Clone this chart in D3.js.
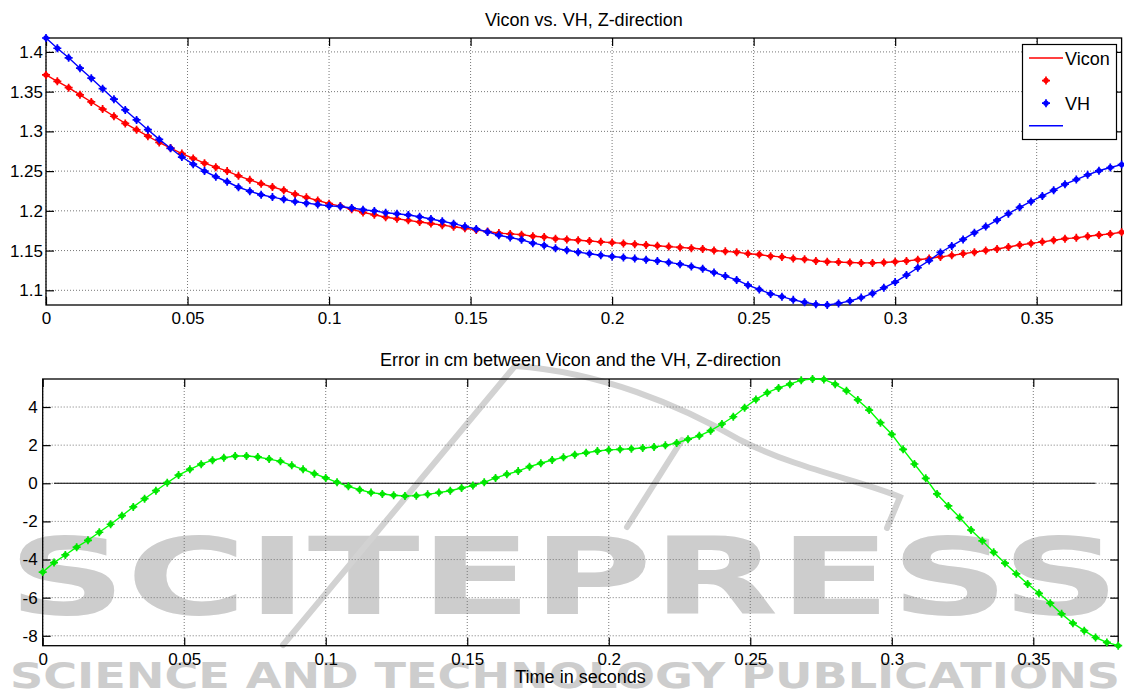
<!DOCTYPE html>
<html>
<head>
<meta charset="utf-8">
<script src="https://d3js.org/d3.v7.min.js"></script>
<style>
body{margin:0;background:#fff;}
text{font-family:"Liberation Sans",Arial,sans-serif;fill:#000;}
</style>
</head>
<body>
<div id="chart"></div>
<script>
/* Vicon vs VH, Z-direction, plus error plot */

// time in seconds (250 Hz samples)
var time = [0,0.004,0.008,0.012,0.016,0.02,0.024,0.028,0.032,0.036,0.04,0.044,0.048,0.052,0.056,0.06,
  0.064,0.068,0.072,0.076,0.08,0.084,0.088,0.092,0.096,0.1,0.104,0.108,0.112,0.116,0.12,0.124,
  0.128,0.132,0.136,0.14,0.144,0.148,0.152,0.156,0.16,0.164,0.168,0.172,0.176,0.18,0.184,0.188,
  0.192,0.196,0.2,0.204,0.208,0.212,0.216,0.22,0.224,0.228,0.232,0.236,0.24,0.244,0.248,0.252,
  0.256,0.26,0.264,0.268,0.272,0.276,0.28,0.284,0.288,0.292,0.296,0.3,0.304,0.308,0.312,0.316,
  0.32,0.324,0.328,0.332,0.336,0.34,0.344,0.348,0.352,0.356,0.36,0.364,0.368,0.372,0.376,0.38];

// Vicon z (m)
var vicon = [1.371,1.363,1.355,1.346,1.337,1.328,1.319,1.310,1.302,1.294,1.286,1.279,1.272,1.266,1.260,1.255,
  1.250,1.244,1.239,1.234,1.230,1.226,1.221,1.217,1.213,1.209,1.206,1.202,1.198,1.195,1.192,1.190,
  1.188,1.186,1.184,1.182,1.180,1.178,1.176,1.174,1.172,1.171,1.170,1.168,1.167,1.165,1.164,1.163,
  1.162,1.161,1.160,1.159,1.158,1.157,1.156,1.155,1.154,1.153,1.152,1.150,1.149,1.148,1.146,1.145,
  1.143,1.142,1.140,1.139,1.137,1.136,1.1355,1.135,1.1345,1.1345,1.135,1.136,1.137,1.1385,1.140,1.142,
  1.144,1.146,1.148,1.150,1.152,1.1545,1.157,1.159,1.161,1.163,1.165,1.166,1.168,1.1695,1.171,1.173];

// VH z (m)
var vh = [1.4175,1.4046,1.3926,1.3795,1.3669,1.3537,1.3405,1.3270,1.3144,1.3021,1.2899,1.2787,1.2677,1.2587,1.2500,1.2429,
  1.2366,1.2297,1.2247,1.2202,1.2173,1.2145,1.2116,1.2097,1.2080,1.2062,1.2055,1.2036,1.2014,1.1999,1.1976,1.1963,
  1.1947,1.1925,1.1898,1.1869,1.1839,1.1805,1.1772,1.1735,1.1692,1.1663,1.1636,1.1593,1.1565,1.1528,1.1504,1.1480,
  1.1460,1.1441,1.1425,1.1412,1.1399,1.1385,1.1370,1.1351,1.1329,1.1299,1.1271,1.1224,1.1179,1.1131,1.1064,1.1010,
  1.0955,1.0920,1.0880,1.0849,1.0823,1.0815,1.0835,1.0865,1.0908,1.0961,1.1032,1.1103,1.1192,1.1284,1.1374,1.1476,
  1.1559,1.1640,1.1725,1.1802,1.1882,1.1964,1.2045,1.2118,1.2187,1.2259,1.2335,1.2394,1.2453,1.2504,1.2545,1.2582];

// error in cm
var errCm = [-4.66,-4.16,-3.76,-3.35,-2.99,-2.57,-2.15,-1.70,-1.24,-0.81,-0.39,0.03,0.43,0.73,1.00,1.21,
  1.34,1.43,1.43,1.38,1.27,1.15,0.94,0.73,0.50,0.28,0.05,-0.16,-0.34,-0.49,-0.56,-0.63,
  -0.67,-0.65,-0.58,-0.49,-0.39,-0.25,-0.12,0.05,0.28,0.47,0.64,0.87,1.05,1.22,1.36,1.50,
  1.60,1.69,1.75,1.78,1.81,1.85,1.90,1.99,2.11,2.31,2.49,2.76,3.11,3.49,3.96,4.40,
  4.75,5.00,5.20,5.41,5.47,5.45,5.20,4.85,4.37,3.84,3.18,2.57,1.78,1.01,0.26,-0.56,
  -1.19,-1.80,-2.45,-3.02,-3.62,-4.19,-4.75,-5.28,-5.77,-6.29,-6.85,-7.34,-7.73,-8.09,-8.35,-8.52];

var xTicks = [0,0.05,0.1,0.15,0.2,0.25,0.3,0.35];
var yTicksTop = [1.1,1.15,1.2,1.25,1.3,1.35,1.4];
var yTicksBot = [-8,-6,-4,-2,0,2,4];
var zeroLineT = [0.004,0.372];
var legendItems = ["Vicon","","VH",""];

var W = 1124, H = 691;
var fmt = function(d){ return String(+d.toFixed(2)); };

var svg = d3.select("#chart").append("svg")
  .attr("width",W).attr("height",H);

/* watermark, drawn below everything */
var wm = svg.append("g");
wm.append("text").attr("x",8).attr("y",614)
  .attr("textLength",1112).attr("lengthAdjust","spacingAndGlyphs")
  .style("font-family","DejaVu Sans").style("font-weight","bold").style("font-size","107px")
  .style("fill","#cdcdcd").text("SCITEPRESS");
wm.append("text").attr("x",10).attr("y",688)
  .attr("textLength",1110).attr("lengthAdjust","spacingAndGlyphs")
  .style("font-family","DejaVu Sans").style("font-weight","bold").style("font-size","36px")
  .style("fill","#cdcdcd").text("SCIENCE AND TECHNOLOGY PUBLICATIONS");
wm.selectAll("path.logo")
  .data(["M283,645 L515,366",
         "M515,366 C600,372 680,405 740,440 C800,470 860,480 900,497 L887,528",
         "M627,527 L682,440"])
  .enter().append("path").attr("class","logo")
  .attr("d",function(d){return d;})
  .attr("fill","none").attr("stroke","#d2d2d2").attr("stroke-width",6)
  .attr("stroke-linecap","round");

function marker(sel, color){
  sel.append("circle").attr("r",2.7).attr("fill",color);
  sel.append("path").attr("d","M-4,0H4M0,-4V4")
    .attr("stroke",color).attr("stroke-width",1.7);
}

function drawPanel(box, yDom, yTicks, labelGap){
  var x = d3.scaleLinear().domain([0,0.38]).range([box.left,box.right]);
  var y = d3.scaleLinear().domain(yDom).range([box.bottom,box.top]);
  var g = svg.append("g");
  var hgt = box.bottom-box.top, wid = box.right-box.left;

  // dotted grid
  g.append("g").selectAll("line").data(xTicks).enter().append("line")
    .attr("x1",function(d){return x(d);}).attr("x2",function(d){return x(d);})
    .attr("y1",box.top).attr("y2",box.bottom)
    .attr("stroke","#777").attr("stroke-dasharray","1,2");
  g.append("g").selectAll("line").data(yTicks).enter().append("line")
    .attr("x1",box.left).attr("x2",box.right)
    .attr("y1",function(d){return y(d);}).attr("y2",function(d){return y(d);})
    .attr("stroke","#777").attr("stroke-dasharray","1,2");

  // ticks on all four sides, pointing in
  var ax = [
    g.append("g").attr("transform","translate(0,"+box.bottom+")")
      .call(d3.axisBottom(x).tickValues(xTicks).tickSizeInner(-8).tickSizeOuter(0).tickPadding(7).tickFormat(fmt)),
    g.append("g").attr("transform","translate(0,"+box.top+")")
      .call(d3.axisTop(x).tickValues(xTicks).tickSizeInner(-8).tickSizeOuter(0).tickFormat("")),
    g.append("g").attr("transform","translate("+box.left+",0)")
      .call(d3.axisLeft(y).tickValues(yTicks).tickSizeInner(-8).tickSizeOuter(0).tickPadding(labelGap).tickFormat(fmt)),
    g.append("g").attr("transform","translate("+box.right+",0)")
      .call(d3.axisRight(y).tickValues(yTicks).tickSizeInner(-8).tickSizeOuter(0).tickFormat(""))
  ];
  ax.forEach(function(a){
    a.select(".domain").remove();
    a.attr("font-family",null).attr("font-size",17);
    a.selectAll("line").attr("stroke","#000").attr("stroke-width",1.2);
  });
  g.append("rect").attr("x",box.left).attr("y",box.top)
    .attr("width",wid).attr("height",hgt)
    .attr("fill","none").attr("stroke","#000").attr("stroke-width",1.3);
  return {g:g,x:x,y:y};
}

/* top: Vicon vs VH */
var topP = drawPanel({left:46,right:1121.6,top:38,bottom:305},
  d3.extent(vh.concat(vicon)), yTicksTop, 3);
var viconData = time.map(function(t,i){return {t:t,v:vicon[i]};});
var vhData = time.map(function(t,i){return {t:t,v:vh[i]};});
var line1 = d3.line().x(function(d){return topP.x(d.t);}).y(function(d){return topP.y(d.v);});

topP.g.append("path").datum(viconData).attr("d",line1)
  .attr("fill","none").attr("stroke","#ff0000").attr("stroke-width",1.4);
topP.g.append("g").selectAll("g").data(viconData).enter().append("g")
  .attr("transform",function(d){return "translate("+topP.x(d.t)+","+topP.y(d.v)+")";})
  .call(marker,"#ff0000");
topP.g.append("g").selectAll("g").data(vhData).enter().append("g")
  .attr("transform",function(d){return "translate("+topP.x(d.t)+","+topP.y(d.v)+")";})
  .call(marker,"#0000ff");
topP.g.append("path").datum(vhData).attr("d",line1)
  .attr("fill","none").attr("stroke","#0000ff").attr("stroke-width",1.4);

svg.append("text").attr("x",583.8).attr("y",26).attr("text-anchor","middle")
  .style("font-size","18px").text("Vicon vs. VH, Z-direction");

// legend
var lg = svg.append("g");
lg.append("rect").attr("x",1022.5).attr("y",44.5).attr("width",94).attr("height",95)
  .attr("fill","#fff").attr("stroke","#000").attr("stroke-width",1.2);
var rowY = d3.scalePoint().domain(d3.range(legendItems.length)).range([58,125.7]);
var legColor = ["#ff0000","#ff0000","#0000ff","#0000ff"];
legendItems.forEach(function(name,i){
  var yy = rowY(i);
  if(i==0 || i==3){
    lg.append("line").attr("x1",1029).attr("x2",1063).attr("y1",yy).attr("y2",yy)
      .attr("stroke",legColor[i]).attr("stroke-width",1.4);
  } else {
    lg.append("g").attr("transform","translate(1046,"+yy+")").call(marker,legColor[i]);
  }
  if(name) lg.append("text").attr("x",1065).attr("y",yy+6.5).style("font-size","18px").text(name);
});

/* bottom: error */
var bot = drawPanel({left:42.7,right:1118.2,top:379,bottom:645.7},
  d3.extent(errCm), yTicksBot, 5);
bot.g.append("line")
  .attr("x1",bot.x(zeroLineT[0])).attr("x2",bot.x(zeroLineT[1]))
  .attr("y1",bot.y(0)).attr("y2",bot.y(0))
  .attr("stroke","#000").attr("stroke-width",1.1);
var errData = time.map(function(t,i){return {t:t,v:errCm[i]};});
var line2 = d3.line().x(function(d){return bot.x(d.t);}).y(function(d){return bot.y(d.v);});
bot.g.append("path").datum(errData).attr("d",line2)
  .attr("fill","none").attr("stroke","#00ff00").attr("stroke-width",1.4);
bot.g.append("g").selectAll("g").data(errData).enter().append("g")
  .attr("transform",function(d){return "translate("+bot.x(d.t)+","+bot.y(d.v)+")";})
  .call(marker,"#00e600");

svg.append("text").attr("x",580.5).attr("y",366).attr("text-anchor","middle")
  .style("font-size","18px").text("Error in cm between Vicon and the VH, Z-direction");
svg.append("text").attr("x",580.5).attr("y",683).attr("text-anchor","middle")
  .style("font-size","18px").text("Time in seconds");
</script>
</body>
</html>
